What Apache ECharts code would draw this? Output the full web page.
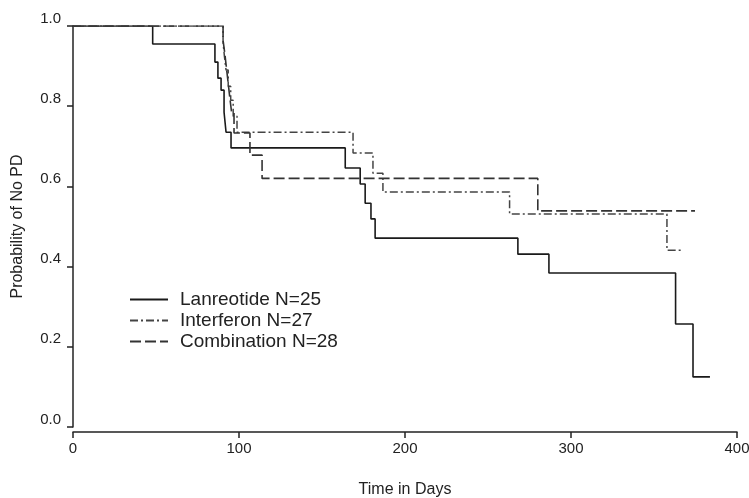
<!DOCTYPE html>
<html>
<head>
<meta charset="utf-8">
<script src="https://cdn.jsdelivr.net/npm/echarts@6/dist/echarts.min.js"></script>
<style>
  html, body { margin: 0; padding: 0; background: #fff; }
  #chart { width: 749px; height: 498px; }
</style>
</head>
<body>
<div id="chart"></div>
<script>
// Kaplan-Meier curves, values
const seriesNames = ['Lanreotide N=25', 'Interferon N=27', 'Combination N=28'];

const lanTime = [0, 48, 85.5, 87.3, 89.2, 91, 92.2, 95.2, 164, 173, 176, 179.5, 182, 268, 286.7, 363, 373.5, 383.7];
const lanSurv = [1, 0.955, 0.91, 0.87, 0.84, 0.785, 0.735, 0.696, 0.646, 0.606, 0.558, 0.519, 0.471, 0.431, 0.384, 0.257, 0.125, 0.125];

const ifnTime = [0, 90.4, 91.2, 92.2, 93.5, 95, 96.5, 98.8, 168.7, 180.7, 186.7, 263, 357.8, 367];
const ifnSurv = [1, 0.96, 0.925, 0.89, 0.85, 0.815, 0.775, 0.735, 0.683, 0.633, 0.586, 0.531, 0.441, 0.441];

const comTime = [0, 90.4, 91.5, 92.5, 93.5, 94.5, 95.5, 97, 106.6, 113.9, 280, 374.7];
const comSurv = [1, 0.964, 0.93, 0.893, 0.857, 0.82, 0.786, 0.733, 0.678, 0.62, 0.539, 0.539];

const xTicks = [0, 100, 200, 300, 400];
const yTicks = [0, 0.2, 0.4, 0.6, 0.8, 1.0];

function pairs(t, s) {
    return t.map((v, i) => [v, s[i]]);
}

const font = 'Liberation Sans, Arial, sans-serif';
const chart = echarts.init(document.getElementById('chart'));

function kmSeries(name, t, s, color, dash, width) {
    return {
        name: name,
        type: 'line',
        step: 'end',
        symbol: 'none',
        data: pairs(t, s),
        lineStyle: { color: color, width: width, type: dash },
        itemStyle: { color: color },
        animation: false
    };
}

const option = {
    backgroundColor: '#fff',
    grid: { left: 73, right: 12, top: 26, bottom: 71, outerBoundsMode: 'none', containLabel: false },
    legend: {
        orient: 'vertical',
        left: 124,
        top: 285,
        itemWidth: 38,
        itemHeight: 12,
        itemGap: 2,
        data: seriesNames,
        itemStyle: { opacity: 0 },
        textStyle: { fontFamily: font, fontSize: 19, lineHeight: 19, color: '#222', padding: [0, 0, 0, 7] }
    },
    xAxis: {
        type: 'value',
        min: 0,
        max: 400,
        interval: 100,
        offset: 5,
        name: 'Time in Days',
        nameLocation: 'middle',
        nameGap: 50,
        nameTextStyle: { fontFamily: font, fontSize: 16, color: '#222' },
        splitLine: { show: false },
        axisLine: { onZero: false, lineStyle: { color: '#222', width: 1.5 } },
        axisTick: { length: 6, lineStyle: { color: '#222', width: 1.5 } },
        axisLabel: {
            fontFamily: font, fontSize: 15, color: '#222', margin: 9,
            formatter: v => xTicks.includes(v) ? String(v) : ''
        }
    },
    yAxis: {
        type: 'value',
        min: 0,
        max: 1,
        interval: 0.2,
        name: 'Probability of No PD',
        nameLocation: 'middle',
        nameGap: 47,
        nameTextStyle: { fontFamily: font, fontSize: 16, color: '#222' },
        splitLine: { show: false },
        axisLine: { show: true, lineStyle: { color: '#222', width: 1.5 } },
        axisTick: { show: true, length: 6, lineStyle: { color: '#222', width: 1.5 } },
        axisLabel: {
            fontFamily: font, fontSize: 15, color: '#222', margin: 12,
            verticalAlign: 'bottom', lineHeight: 15,
            formatter: v => yTicks.some(t => Math.abs(t - v) < 1e-6) ? v.toFixed(1) : ''
        }
    },
    series: [
        kmSeries(seriesNames[0], lanTime, lanSurv, '#1a1a1a', 'solid', 1.6),
        kmSeries(seriesNames[1], ifnTime, ifnSurv, '#444', [8, 3, 2, 3], 1.5),
        kmSeries(seriesNames[2], comTime, comSurv, '#333', [11, 4], 1.6)
    ]
};

chart.setOption(option);
</script>
</body>
</html>
